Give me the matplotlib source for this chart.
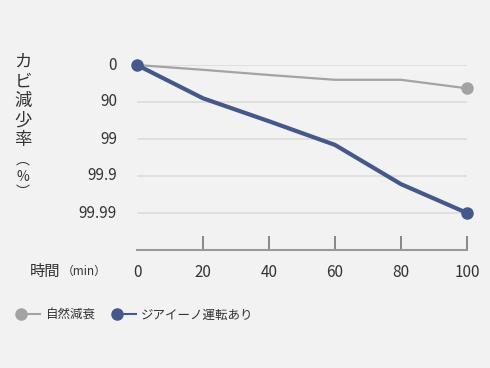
import matplotlib.pyplot as plt
from matplotlib.lines import Line2D

plt.rcParams['font.family'] = ['Noto Sans CJK JP', 'DejaVu Sans']

# data: log reduction level (0 -> 0%, 1 -> 90%, 2 -> 99%, ...)
minutes = [0, 20, 40, 60, 80, 100]
natural = [0, 0.13, 0.27, 0.40, 0.40, 0.63]
ziaino = [0, 0.90, 1.52, 2.16, 3.22, 4.00]
y_levels = [0, 1, 2, 3, 4]
y_labels = ['0', '90', '99', '99.9', '99.99']
x_ticks = [0, 20, 40, 60, 80, 100]

bg = '#f2f2f2'
gray = '#a3a3a3'
blue = '#44598a'
text_c = '#333333'

W, H = 490, 368
fig = plt.figure(figsize=(W / 100, H / 100), dpi=100, facecolor=bg)
ax = fig.add_axes([137 / W, 1 - 250 / H, (467 - 137) / W, (250 - 65) / H])
ax.set_facecolor(bg)

ax.set_xlim(0, 100)
ax.set_ylim(5, 0)

for lv in y_levels:
    ax.axhline(lv, color='#dcdcdc', linewidth=1.2, zorder=1)

ax.plot(minutes, natural, color=gray, linewidth=1.6, zorder=3, clip_on=False)
ax.plot([minutes[-1]], [natural[-1]], 'o', color=gray, markersize=8, zorder=4, clip_on=False)

ax.plot(minutes, ziaino, color=blue, linewidth=3, zorder=5, clip_on=False)
ax.plot([minutes[0], minutes[-1]], [ziaino[0], ziaino[-1]], 'o', color=blue,
        markersize=8, zorder=6, clip_on=False)

for s in ['top', 'left', 'right']:
    ax.spines[s].set_visible(False)
ax.spines['bottom'].set_color('#999999')
ax.spines['bottom'].set_linewidth(1.5)

ax.set_xticks(x_ticks[1:])
ax.set_xticklabels([])
ax.tick_params(axis='x', direction='in', length=10, width=1.2, color='#777777')
ax.set_yticks([])

for xv in x_ticks:
    ax.text(xv, 5.6, str(xv), ha='center', va='center', fontsize=11, color=text_c)
for lv, lab in zip(y_levels, y_labels):
    fig.text(117 / W, 1 - (65 + 37 * lv) / H, lab, ha='right', va='center',
             fontsize=11, color=text_c)

# x axis label
fig.text(30 / W, 1 - 271 / H, '時間', ha='left', va='center', fontsize=11, color=text_c)
fig.text(62 / W, 1 - 271 / H, '（min）', ha='left', va='center', fontsize=8.5, color=text_c)

# vertical y label
ylab = ['カ', 'ビ', '減', '少', '率', '︵', '%', '︶']
ypos = [62, 82, 101, 120, 140, 160, 177, 192]
for ch, yp in zip(ylab, ypos):
    fig.text(23 / W, 1 - yp / H, ch, ha='center', va='center',
             fontsize=10 if ch in '%︵︶' else 12.5, color=text_c)

# legend
handles = [Line2D([], [], color=gray, marker='o', markersize=8, linewidth=1.5),
           Line2D([], [], color=blue, marker='o', markersize=8, linewidth=1.5)]
leg = fig.legend(handles, ['自然減衰', 'ジアイーノ運転あり'], loc='center left',
                 bbox_to_anchor=(10 / W, 1 - 315 / H), ncol=2, frameon=False,
                 fontsize=9, handlelength=1.5, handletextpad=0.45, columnspacing=1.7,
                 markerfirst=True)
for t in leg.get_texts():
    t.set_color(text_c)
for h in leg.legend_handles:
    h.set_markevery([0])

fig.savefig('out.png', dpi=100, facecolor=bg)
